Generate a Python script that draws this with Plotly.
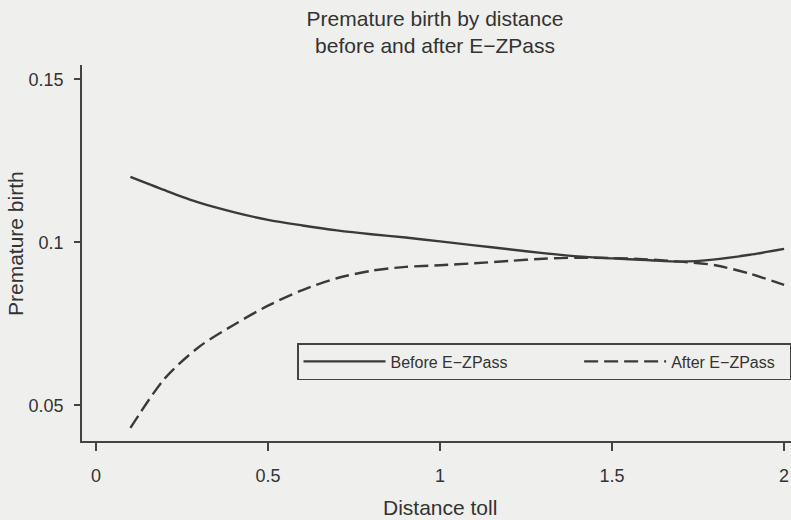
import plotly.graph_objects as go

distance = [0.1, 0.2, 0.3, 0.4, 0.5, 0.6, 0.7, 0.8, 0.9, 1.0,
            1.1, 1.2, 1.3, 1.4, 1.5, 1.6, 1.7, 1.8, 1.9, 2.0]
before_ezpass = [0.1201, 0.1160, 0.1122, 0.1093, 0.1069, 0.1052, 0.1037, 0.1025, 0.1015, 0.1003,
                 0.0991, 0.0979, 0.0967, 0.0957, 0.0951, 0.0946, 0.0941, 0.0948, 0.0962, 0.0980]
after_ezpass = [0.0431, 0.0583, 0.0680, 0.0747, 0.0806, 0.0854, 0.0890, 0.0913, 0.0925, 0.0930,
                0.0936, 0.0943, 0.0950, 0.0953, 0.0952, 0.0948, 0.0941, 0.0930, 0.0904, 0.0870]

x_ticks = [0, 0.5, 1, 1.5, 2]
x_tick_labels = ["0", "0.5", "1", "1.5", "2"]
y_ticks = [0.05, 0.1, 0.15]
y_tick_labels = ["0.05", "0.1", "0.15"]

INK = "#3a3a3a"
TEXT = "#333333"
BG = "#efefed"
FONT = "Liberation Sans, Arial, sans-serif"
NB = "\u00a0"

fig = go.Figure()
fig.add_trace(go.Scatter(
    x=distance, y=before_ezpass, mode="lines", name="Before E\u2212ZPass" + NB * 15,
    line=dict(color=INK, width=2.4, shape="spline", smoothing=0.8)))
fig.add_trace(go.Scatter(
    x=distance, y=after_ezpass, mode="lines", name="After E\u2212ZPass" + NB * 2,
    line=dict(color=INK, width=2.4, dash="14px,6px", shape="spline", smoothing=0.8)))

fig.update_layout(
    width=791, height=520,
    margin=dict(l=82, r=0, t=65, b=79),
    paper_bgcolor=BG, plot_bgcolor=BG,
    font=dict(family=FONT, color=TEXT, size=18),
    showlegend=True,
    title=dict(text="Premature birth by distance<br>before and after E\u2212ZPass",
               x=435/791, xref="container", xanchor="center",
               y=1-26/520, yref="container", yanchor="top",
               font=dict(size=21, family=FONT, color=TEXT)),
    legend=dict(orientation="h", x=(297-82)/709, y=(441-343)/376,
                xanchor="left", yanchor="top",
                bordercolor="#444444", borderwidth=1.5, bgcolor="rgba(0,0,0,0)",
                font=dict(size=16, family=FONT, color=TEXT),
                itemwidth=82, traceorder="normal"),
    xaxis=dict(range=[-0.0407, 2.020], tickvals=x_ticks, ticktext=x_tick_labels,
               showgrid=False, zeroline=False, showline=True, linecolor="#444444",
               linewidth=1.5, ticks="outside", ticklen=8, tickwidth=1.5,
               tickcolor="#444444", ticklabelstandoff=10,
               tickfont=dict(size=18)),
    yaxis=dict(range=[0.0391, 0.1544], tickvals=y_ticks, ticktext=y_tick_labels,
               showgrid=False, zeroline=False, showline=True, linecolor="#444444",
               linewidth=1.5, ticks="outside", ticklen=6, tickwidth=1.5,
               tickcolor="#444444", ticklabelstandoff=7,
               tickfont=dict(size=18)),
    annotations=[
        dict(text="Distance toll", xref="paper", yref="paper",
             x=(440-82)/709, y=(441-507)/376, xanchor="center", yanchor="middle",
             showarrow=False, font=dict(size=21, family=FONT, color=TEXT)),
        dict(text="Premature birth", xref="paper", yref="paper",
             x=(15-82)/709, y=(441-244)/376, xanchor="center", yanchor="middle",
             textangle=-90, showarrow=False,
             font=dict(size=21, family=FONT, color=TEXT)),
    ],
)

fig.write_html(
    "out.html",
    config={"displayModeBar": False},
    post_script="document.body.style.margin='0';document.body.style.background='%s';" % BG,
)
